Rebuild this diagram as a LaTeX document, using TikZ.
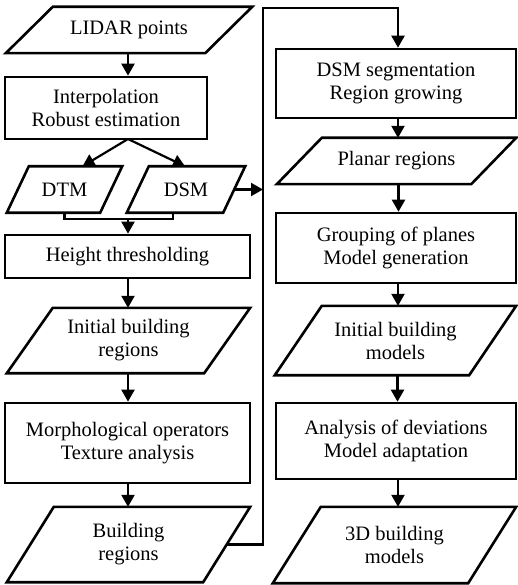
\documentclass[tikz,border=0pt]{standalone}
\usepackage{fontspec}
\setmainfont{Liberation Serif}
\usetikzlibrary{arrows.meta}

\begin{document}
\begin{tikzpicture}[x=1pt, y=-1pt,
    every node/.style={inner sep=0pt, align=center,
                       font=\fontsize{20.5}{23}\selectfont},
    proc/.style={draw, line width=2.6pt},
    arr/.style={line width=2.2pt, -{Triangle[width=13pt, length=12pt]}}]
\useasboundingbox (0,0) rectangle (517,585);

% left column
\node[minimum width=246pt, minimum height=46pt] (lidar) at (129,30) {LIDAR points};
\node[proc, minimum width=202pt, minimum height=62pt] (interp) at (106,108)
    {Interpolation\\Robust estimation};
\node[minimum width=115pt, minimum height=46pt] (dtm) at (64.5,189.5) {DTM};
\node[minimum width=118pt, minimum height=46pt] (dsm) at (186,189.5) {DSM};
\node[proc, minimum width=245pt, minimum height=43pt] (thresh) at (127.5,256.5)
    {Height thresholding};
\node[minimum width=243pt, minimum height=65pt] (initreg) at (128.5,340.5)
    {Initial building\\regions};
\node[proc, minimum width=245pt, minimum height=80pt] (morph) at (127.5,443)
    {Morphological operators\\Texture analysis};
\node[minimum width=243pt, minimum height=75pt] (build) at (128.5,544.5)
    {Building\\regions};

% right column
\node[proc, minimum width=240pt, minimum height=69pt] (dsmseg) at (396,83.5)
    {DSM segmentation\\Region growing};
\node[minimum width=239pt, minimum height=46pt] (planar) at (396.5,161)
    {Planar regions};
\node[proc, minimum width=240pt, minimum height=70pt] (group) at (396,248)
    {Grouping of planes\\Model generation};
\node[minimum width=241pt, minimum height=69pt] (initmod) at (395.5,340.5)
    {Initial building\\models};
\node[proc, minimum width=240pt, minimum height=76pt] (adapt) at (396,441)
    {Analysis of deviations\\Model adaptation};
\node[minimum width=243pt, minimum height=76pt] (model) at (394.5,545)
    {3D building\\models};

% data outlines
\foreach \n/\s in {lidar/47, dtm/22, dsm/22, initreg/46, build/47,
                   planar/45, initmod/47, model/48}
  \draw[line width=2.6pt] ([xshift=\s]\n.north west) -- (\n.north east)
     -- ([xshift=-\s]\n.south east) -- (\n.south west) -- cycle;

\coordinate (split) at (128,139);
\coordinate (join) at (128,219);
\coordinate (bus) at (263,8);

\draw[arr] (lidar.south -| split) -- (split |- interp.north);
\draw[arr] (split) -- ([xshift=18pt]dtm.north);
\draw[arr] (split) -- ([xshift=-1pt]dsm.north);
\draw[line width=2.2pt] (dtm.south) |- (join) -| ([xshift=-13pt]dsm.south);
\draw[arr] (join) -- (join |- thresh.north);
\draw[arr] (thresh.south -| split) -- (split |- initreg.north);
\draw[arr] (initreg.south -| split) -- (split |- morph.north);
\draw[arr] (morph.south -| split) -- (split |- build.north);

\draw[arr] ([xshift=-11pt]dsm.east) -- (dsm.east -| bus);
\draw[arr] ([xshift=-24pt]build.east) -| (bus) -| ([xshift=2pt]dsmseg.north);

\draw[arr] ([xshift=2pt]dsmseg.south) -- ([xshift=2pt]dsmseg.south |- planar.north);
\draw[arr] ([xshift=2pt]planar.south) -- ([xshift=2pt]planar.south |- group.north);
\draw[arr] ([xshift=2pt]group.south) -- ([xshift=2pt]group.south |- initmod.north);
\draw[arr] ([xshift=2pt]initmod.south) -- ([xshift=2pt]initmod.south |- adapt.north);
\draw[arr] ([xshift=2pt]adapt.south) -- ([xshift=2pt]adapt.south |- model.north);
\end{tikzpicture}
\end{document}
